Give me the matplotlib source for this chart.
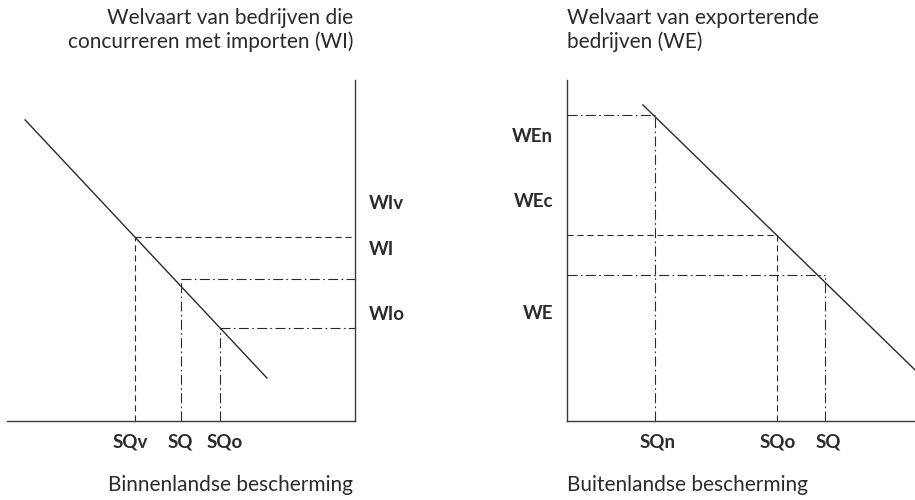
import matplotlib.pyplot as plt

# linker paneel: welvaart van bedrijven die concurreren met importen
wi_curve_x = [0.52, 7.47]
wi_curve_y = [8.83, 1.26]
wi_sq_x = [3.68, 5.0, 6.12]          # SQv, SQ, SQo
wi_sq_y = [5.39, 4.15, 2.72]
wi_styles = ['dashed', 'dashdot', 'dashdot']
wi_xticks = [3.53, 4.97, 6.26]
wi_xlabels = ['SQv', 'SQ', 'SQo']
wi_yticks = [6.42, 5.07, 3.17]
wi_ylabels = ['WIv', 'WI', 'WIo']

# rechter paneel: welvaart van exporterende bedrijven
we_curve_x = [2.18, 10.2]
we_curve_y = [9.27, 1.3]
we_sq_x = [2.53, 6.03, 7.41]          # SQn, SQo, SQ
we_sq_y = [8.97, 5.45, 4.28]
we_styles = ['dashdot', 'dashed', 'dashdot']
we_xticks = [2.61, 6.06, 7.5]
we_xlabels = ['SQn', 'SQo', 'SQ']
we_yticks = [8.39, 6.48, 3.20]
we_ylabels = ['WEn', 'WEc', 'WE']

plt.rcParams['font.family'] = ['Lato', 'DejaVu Sans']
ink = '#2b2b2b'
dash = (0, (5.5, 3.5))
dashdot = (0, (9, 3, 1.5, 3))

fig = plt.figure(figsize=(9.15, 5), dpi=100)
ax1 = fig.add_axes([7 / 915, 79 / 500, 348 / 915, 341 / 500])
ax2 = fig.add_axes([567 / 915, 79 / 500, 348 / 915, 341 / 500])

for ax in (ax1, ax2):
    ax.set_xlim(0, 10)
    ax.set_ylim(0, 10)
    for s in ax.spines.values():
        s.set_color('#3a3a3a')
        s.set_linewidth(1.0)
    ax.tick_params(length=0, labelsize=13.5, colors=ink, pad=9)

# links
ax1.spines['top'].set_visible(False)
ax1.spines['left'].set_visible(False)
ax1.plot(wi_curve_x, wi_curve_y, color=ink, lw=1.0)
for x, y, st in zip(wi_sq_x, wi_sq_y, wi_styles):
    ls = dash if st == 'dashed' else dashdot
    ax1.plot([x, 10], [y, y], color=ink, lw=0.8, linestyle=ls)
    ax1.plot([x, x], [0, y], color=ink, lw=0.8, linestyle=ls)
ax1.yaxis.tick_right()
ax1.set_yticks(wi_yticks, wi_ylabels, fontweight='bold')
ax1.set_xticks(wi_xticks, wi_xlabels, fontweight='bold')
ax1.tick_params(axis='y', pad=10)
ax1.text(0.995, 1.147, 'Welvaart van bedrijven die\nconcurreren met importen (WI)',
         transform=ax1.transAxes, ha='right', va='center', fontsize=15,
         color=ink, linespacing=1.2)
ax1.text(0.995, -0.188, 'Binnenlandse bescherming', transform=ax1.transAxes,
         ha='right', va='center', fontsize=15, color=ink)

# rechts
ax2.spines['top'].set_visible(False)
ax2.spines['right'].set_visible(False)
ax2.plot(we_curve_x, we_curve_y, color=ink, lw=1.0, clip_on=True)
for x, y, st in zip(we_sq_x, we_sq_y, we_styles):
    ls = dash if st == 'dashed' else dashdot
    ax2.plot([0, x], [y, y], color=ink, lw=0.8, linestyle=ls)
    ax2.plot([x, x], [0, y], color=ink, lw=0.8, linestyle=ls)
ax2.set_yticks(we_yticks, we_ylabels, fontweight='bold')
ax2.set_xticks(we_xticks, we_xlabels, fontweight='bold')
ax2.tick_params(axis='y', pad=10)
ax2.text(0.0, 1.147, 'Welvaart van exporterende\nbedrijven (WE)',
         transform=ax2.transAxes, ha='left', va='center', fontsize=15,
         color=ink, linespacing=1.2)
ax2.text(0.0, -0.188, 'Buitenlandse bescherming', transform=ax2.transAxes,
         ha='left', va='center', fontsize=15, color=ink)

fig.savefig('out.png', dpi=100)
